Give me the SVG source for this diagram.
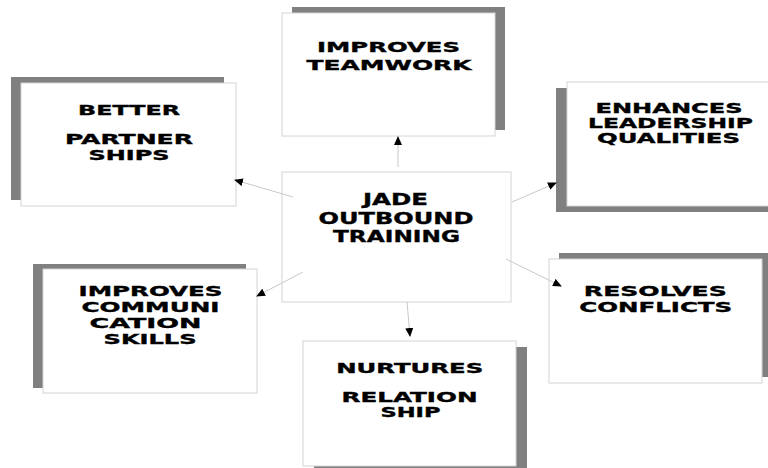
<svg xmlns="http://www.w3.org/2000/svg" width="768" height="468" viewBox="0 0 768 468">
<style>
.sh{fill:#808080}
.bx{fill:#fff;stroke:#d4d4d4;stroke-width:1}
.t{font-family:"DejaVu Sans","Liberation Sans",sans-serif;font-weight:bold;font-size:14px;fill:#000;stroke:#000;stroke-width:0.35;text-anchor:middle}
.tc{font-size:15.5px}
.ln{stroke:#c8c8c8;stroke-width:1;fill:none;marker-end:url(#ah)}
</style>
<defs>
<marker id="ah" markerWidth="9" markerHeight="8" refX="8" refY="4" orient="auto" markerUnits="userSpaceOnUse">
<path d="M0,0 L9,4 L0,8 Z" fill="#000"/>
</marker>
</defs>
<rect width="768" height="468" fill="#fff"/>
<g id="partnerships">
<rect class="sh" x="11" y="77" width="213" height="123"/>
<rect class="bx" x="21" y="83" width="215" height="123"/>
<text class="t" transform="translate(129,115) scale(1.45,1)" textLength="70.3" lengthAdjust="spacingAndGlyphs">BETTER</text>
<text class="t" transform="translate(129,144) scale(1.45,1)" textLength="88.3" lengthAdjust="spacingAndGlyphs">PARTNER</text>
<text class="t" transform="translate(129,160) scale(1.45,1)" textLength="55.9" lengthAdjust="spacingAndGlyphs">SHIPS</text>
</g>
<g id="teamwork">
<rect class="sh" x="292" y="7" width="213" height="123"/>
<rect class="bx" x="282" y="13" width="213" height="123"/>
<text class="t" transform="translate(388.5,52) scale(1.45,1)" textLength="98.6" lengthAdjust="spacingAndGlyphs">IMPROVES</text>
<text class="t" transform="translate(389,70) scale(1.45,1)" textLength="113.8" lengthAdjust="spacingAndGlyphs">TEAMWORK</text>
</g>
<g id="leadership">
<rect class="sh" x="556" y="88" width="220" height="124"/>
<rect class="bx" x="567" y="82" width="215" height="124"/>
<text class="t" transform="translate(669,113) scale(1.45,1)" textLength="101.4" lengthAdjust="spacingAndGlyphs">ENHANCES</text>
<text class="t" transform="translate(670.5,128) scale(1.45,1)" textLength="113.8" lengthAdjust="spacingAndGlyphs">LEADERSHIP</text>
<text class="t" transform="translate(668.5,142.5) scale(1.45,1)" textLength="98.6" lengthAdjust="spacingAndGlyphs">QUALITIES</text>
</g>
<g id="center">
<rect class="bx" x="282" y="172" width="229" height="130"/>
<text class="t tc" transform="translate(395.5,205) scale(1.45,1)" textLength="44.8" lengthAdjust="spacingAndGlyphs">JADE</text>
<text class="t tc" transform="translate(396,223.5) scale(1.45,1)" textLength="106.9" lengthAdjust="spacingAndGlyphs">OUTBOUND</text>
<text class="t tc" transform="translate(396.5,242) scale(1.45,1)" textLength="87.6" lengthAdjust="spacingAndGlyphs">TRAINING</text>
</g>
<g id="communication">
<rect class="sh" x="33" y="264" width="213" height="124"/>
<rect class="bx" x="43" y="269" width="214" height="124"/>
<text class="t" transform="translate(150.5,296) scale(1.45,1)" textLength="99.3" lengthAdjust="spacingAndGlyphs">IMPROVES</text>
<text class="t" transform="translate(150.5,312) scale(1.45,1)" textLength="95.2" lengthAdjust="spacingAndGlyphs">COMMUNI</text>
<text class="t" transform="translate(145.5,328) scale(1.45,1)" textLength="77.2" lengthAdjust="spacingAndGlyphs">CATION</text>
<text class="t" transform="translate(150,344) scale(1.45,1)" textLength="64.1" lengthAdjust="spacingAndGlyphs">SKILLS</text>
</g>
<g id="relationship">
<rect class="sh" x="314" y="347" width="213" height="125"/>
<rect class="bx" x="303" y="341" width="213" height="125"/>
<text class="t" transform="translate(409.7,373) scale(1.45,1)" textLength="101.4" lengthAdjust="spacingAndGlyphs">NURTURES</text>
<text class="t" transform="translate(409.5,401.5) scale(1.45,1)" textLength="93.8" lengthAdjust="spacingAndGlyphs">RELATION</text>
<text class="t" transform="translate(410.5,417) scale(1.45,1)" textLength="41.4" lengthAdjust="spacingAndGlyphs">SHIP</text>
</g>
<g id="conflicts">
<rect class="sh" x="559" y="253" width="213" height="124"/>
<rect class="bx" x="549" y="259" width="213" height="124"/>
<text class="t" transform="translate(655.3,296) scale(1.45,1)" textLength="98.6" lengthAdjust="spacingAndGlyphs">RESOLVES</text>
<text class="t" transform="translate(655.7,311.5) scale(1.45,1)" textLength="105.5" lengthAdjust="spacingAndGlyphs">CONFLICTS</text>
</g>
<g id="connectors">
<line class="ln" x1="293" y1="197" x2="235" y2="180"/>
<line class="ln" x1="398" y1="167" x2="398" y2="137"/>
<line class="ln" x1="512" y1="202" x2="556" y2="183"/>
<line class="ln" x1="303" y1="272" x2="257" y2="296"/>
<line class="ln" x1="407" y1="302" x2="410" y2="336"/>
<line class="ln" x1="506" y1="259" x2="561" y2="286"/>
</g>
</svg>
